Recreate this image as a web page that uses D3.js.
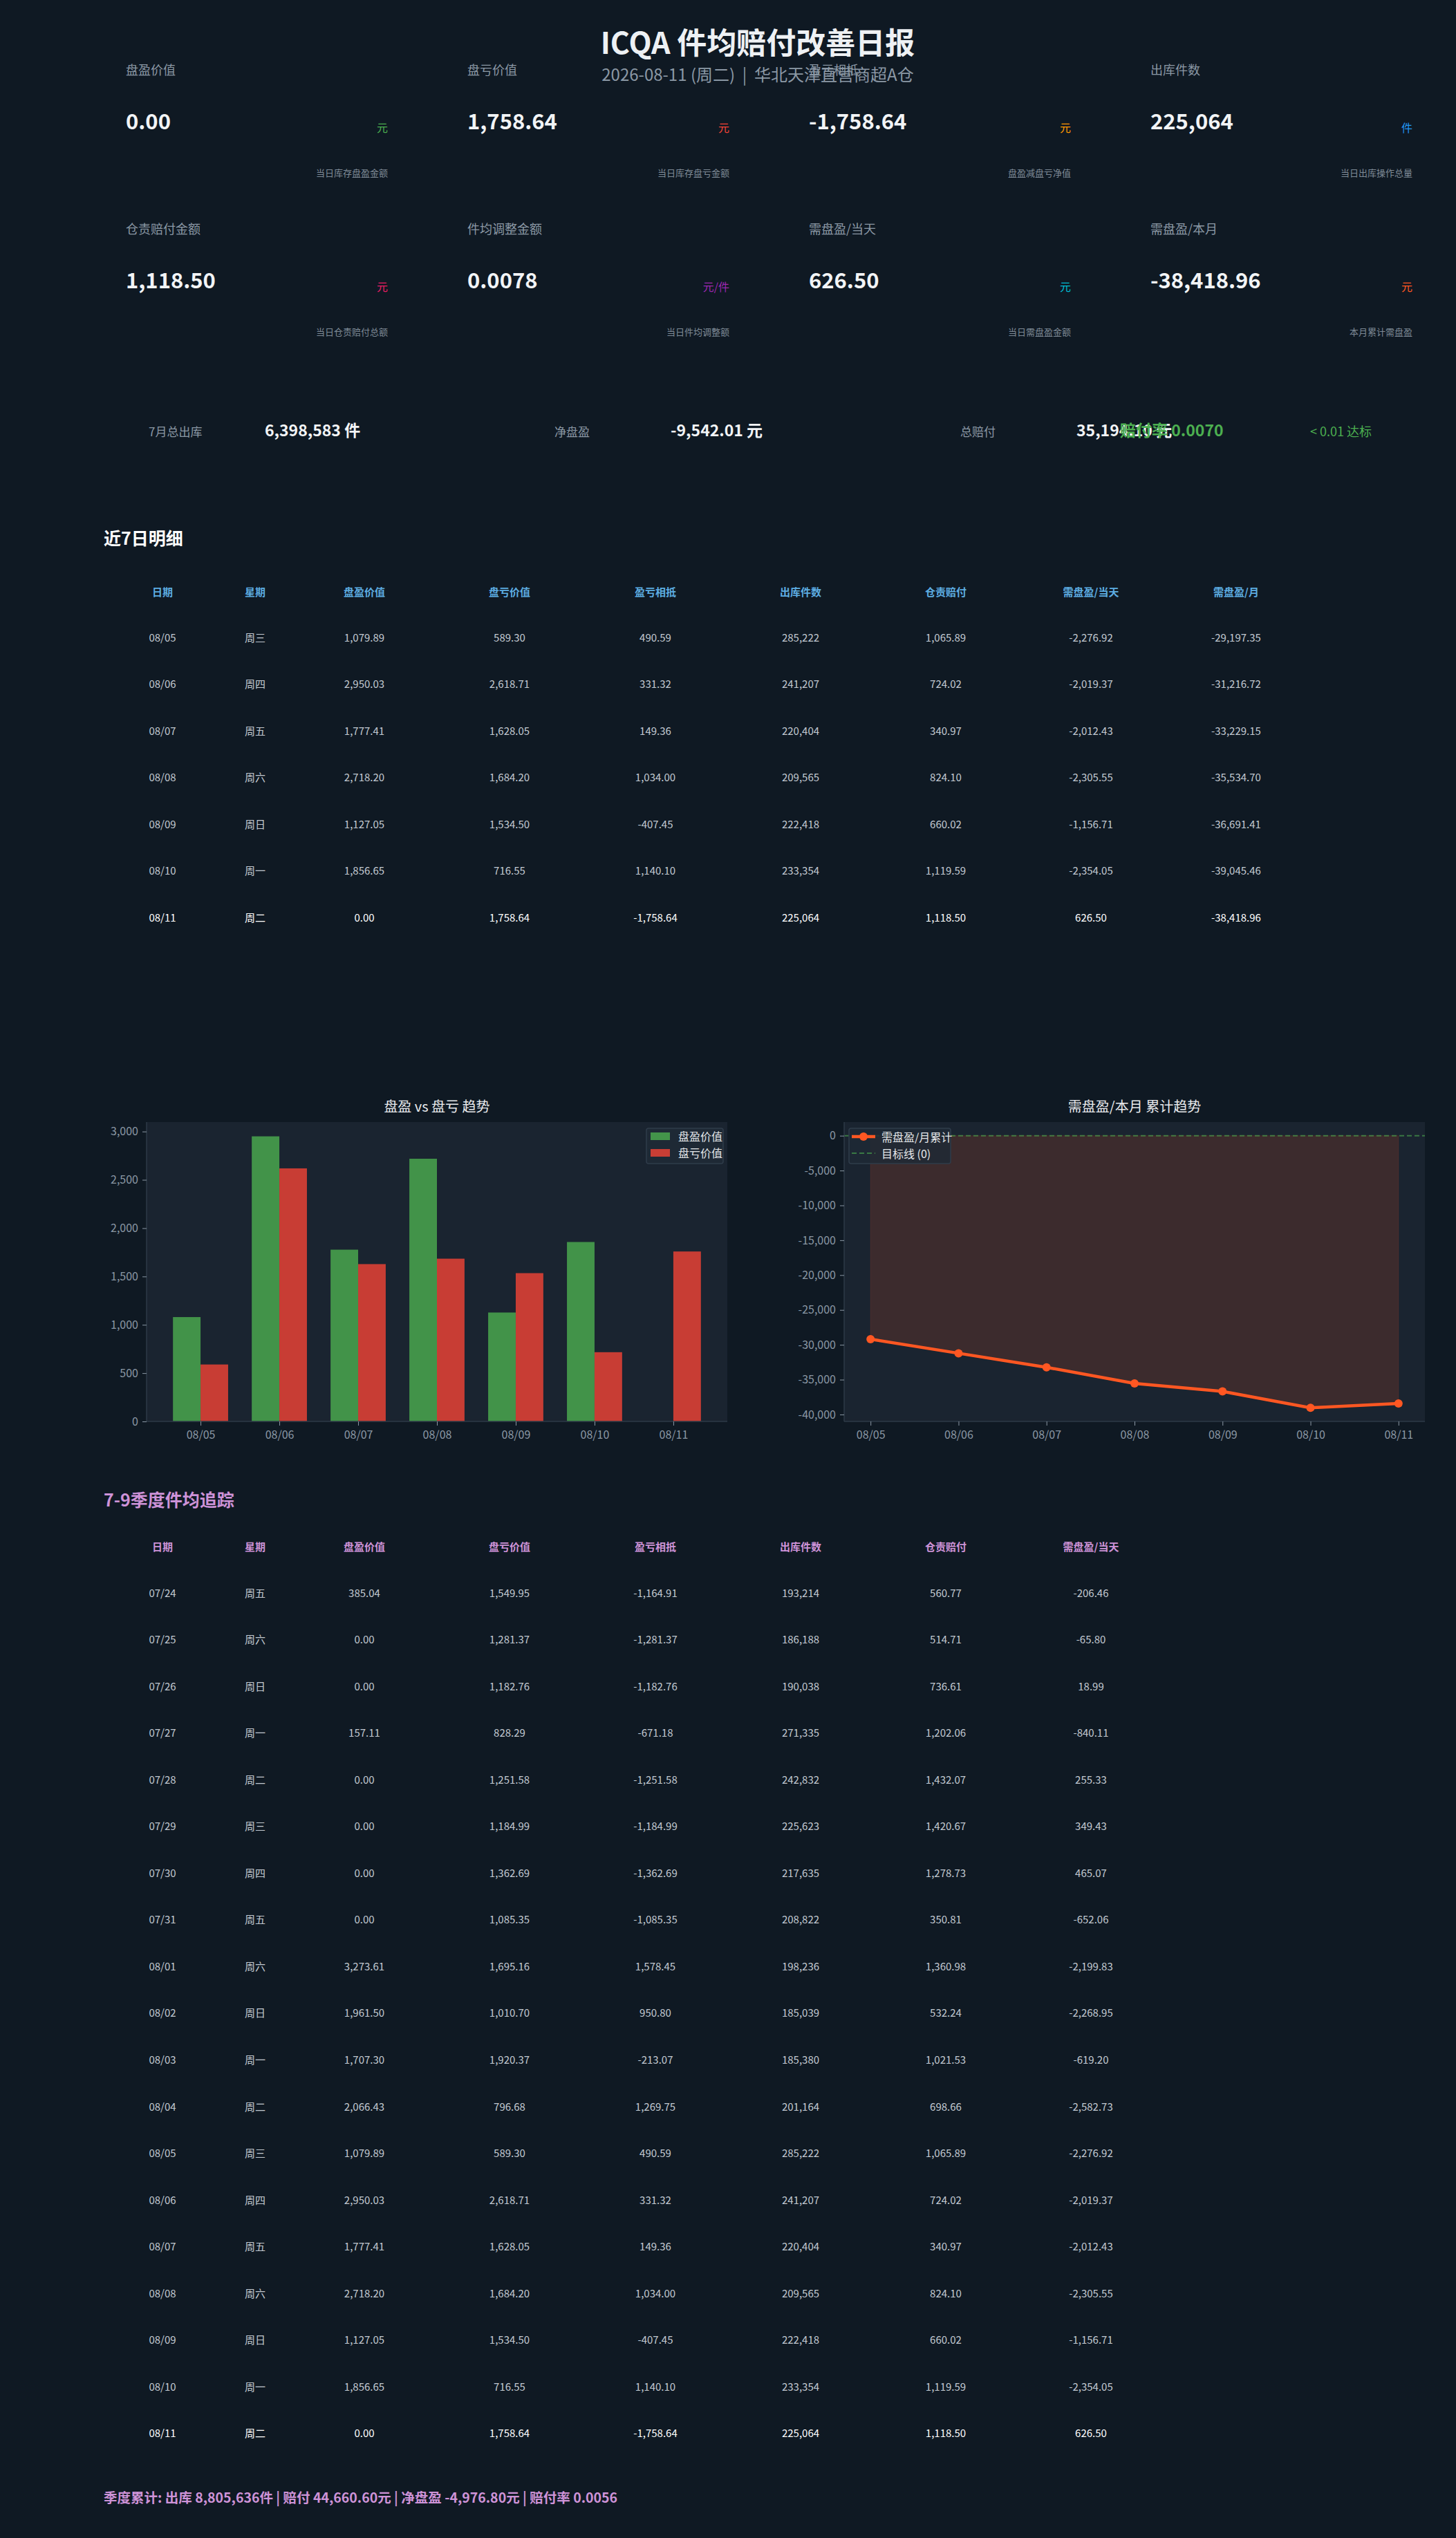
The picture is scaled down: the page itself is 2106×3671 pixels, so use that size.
<!DOCTYPE html>
<html>
<head>
<meta charset="utf-8">
<script src="https://cdn.jsdelivr.net/npm/d3@7"></script>
<style>
  body { margin: 0; background: #0f1923; }
  svg { display: block; font-family: "Noto Sans CJK SC", "Noto Sans", sans-serif; }
</style>
</head>
<body>
<div id="chart"></div>
<script>
// ---------- data ----------
const title = "ICQA 件均赔付改善日报";
const subtitle = "2026-08-11 (周二)  |  华北天津直营商超A仓";

const kpiLabels = ["盘盈价值", "盘亏价值", "盈亏相抵", "出库件数", "仓责赔付金额", "件均调整金额", "需盘盈/当天", "需盘盈/本月"];
const kpiValues = [0, 1758.64, -1758.64, 225064, 1118.50, 0.0078, 626.50, -38418.96];
const kpiKinds  = ["money", "money", "money", "int", "money", "rate", "money", "money"];
const kpiUnits  = ["元", "元", "元", "件", "元", "元/件", "元", "元"];
const kpiUnitColors = ["#4caf50", "#f44336", "#ff9800", "#2196f3", "#e91e63", "#9c27b0", "#00bcd4", "#ff5722"];
const kpiNotes  = ["当日库存盘盈金额", "当日库存盘亏金额", "盘盈减盘亏净值", "当日出库操作总量", "当日仓责赔付总额", "当日件均调整额", "当日需盘盈金额", "本月累计需盘盈"];

const sumLabels = ["7月总出库", "净盘盈", "总赔付"];
const sumValues = [6398583, -9542.01, 35194.10];
const sumUnits  = ["件", "元", "元"];
const sumRate = 0.0070;
const sumRateNote = "< 0.01 达标";

// quarter tracking, 07/24 .. 08/11
const qDates = ["07/24","07/25","07/26","07/27","07/28","07/29","07/30","07/31","08/01","08/02","08/03","08/04","08/05","08/06","08/07","08/08","08/09","08/10","08/11"];
const qWeek  = ["周五","周六","周日","周一","周二","周三","周四","周五","周六","周日","周一","周二","周三","周四","周五","周六","周日","周一","周二"];
const qGain  = [385.04, 0, 0, 157.11, 0, 0, 0, 0, 3273.61, 1961.50, 1707.30, 2066.43, 1079.89, 2950.03, 1777.41, 2718.20, 1127.05, 1856.65, 0];
const qLoss  = [1549.95, 1281.37, 1182.76, 828.29, 1251.58, 1184.99, 1362.69, 1085.35, 1695.16, 1010.70, 1920.37, 796.68, 589.30, 2618.71, 1628.05, 1684.20, 1534.50, 716.55, 1758.64];
const qNet   = [-1164.91, -1281.37, -1182.76, -671.18, -1251.58, -1184.99, -1362.69, -1085.35, 1578.45, 950.80, -213.07, 1269.75, 490.59, 331.32, 149.36, 1034.00, -407.45, 1140.10, -1758.64];
const qOut   = [193214, 186188, 190038, 271335, 242832, 225623, 217635, 208822, 198236, 185039, 185380, 201164, 285222, 241207, 220404, 209565, 222418, 233354, 225064];
const qComp  = [560.77, 514.71, 736.61, 1202.06, 1432.07, 1420.67, 1278.73, 350.81, 1360.98, 532.24, 1021.53, 698.66, 1065.89, 724.02, 340.97, 824.10, 660.02, 1119.59, 1118.50];
const qNeedDay = [-206.46, -65.80, 18.99, -840.11, 255.33, 349.43, 465.07, -652.06, -2199.83, -2268.95, -619.20, -2582.73, -2276.92, -2019.37, -2012.43, -2305.55, -1156.71, -2354.05, 626.50];
const qFooter = "季度累计: 出库 8,805,636件 | 赔付 44,660.60元 | 净盘盈 -4,976.80元 | 赔付率 0.0056";

// last 7 days
const dates7 = ["08/05","08/06","08/07","08/08","08/09","08/10","08/11"];
const needMonth7 = [-29197.35, -31216.72, -33229.15, -35534.70, -36691.41, -39045.46, -38418.96];

const table1Headers = ["日期", "星期", "盘盈价值", "盘亏价值", "盈亏相抵", "出库件数", "仓责赔付", "需盘盈/当天", "需盘盈/月"];
const table2Headers = ["日期", "星期", "盘盈价值", "盘亏价值", "盈亏相抵", "出库件数", "仓责赔付", "需盘盈/当天"];

// ---------- setup ----------
const width = 2106, height = 3671;
const bg = "#0f1923", axBg = "#1a2430", gray = "#8b98a5", cell = "#c3cad2";

const loc = d3.formatLocale({ decimal: ".", thousands: ",", grouping: [3], currency: ["", ""], minus: "-" });
const fMoney = loc.format(",.2f"), fInt = loc.format(","), fRate = loc.format(".4f");
const fmtKind = { money: fMoney, int: fInt, rate: fRate };

const svg = d3.select("#chart").append("svg")
  .attr("width", width).attr("height", height);
svg.append("rect").attr("width", width).attr("height", height).attr("fill", bg);

// ---------- KPI cards ----------
const cardStep = 494, cardLeft = 182, cardInner = 379, rowStep = 230;
kpiLabels.forEach((lab, i) => {
  const c = i % 4, r = Math.floor(i / 4);
  const x0 = cardLeft + c * cardStep, x1 = x0 + cardInner, y0 = r * rowStep;
  const g = svg.append("g");
  g.append("text").attr("x", x0).attr("y", 108 + y0)
    .attr("fill", gray).attr("font-size", 18).text(lab);
  g.append("text").attr("x", x0).attr("y", 187 + y0)
    .attr("fill", "#f2f4f6").attr("font-size", 31).attr("font-weight", 700)
    .text(fmtKind[kpiKinds[i]](kpiValues[i]));
  g.append("text").attr("x", x1).attr("y", 191 + y0).attr("text-anchor", "end")
    .attr("fill", kpiUnitColors[i]).attr("font-size", 16).text(kpiUnits[i]);
  g.append("text").attr("x", x1).attr("y", 255 + y0).attr("text-anchor", "end")
    .attr("fill", "#7f8b97").attr("font-size", 13).text(kpiNotes[i]);
});

// title sits over the cards
svg.append("text").attr("x", 1096).attr("y", 78).attr("text-anchor", "middle")
  .attr("fill", "#eef1f4").attr("font-size", 43).attr("font-weight", 700).text(title);
svg.append("text").attr("x", 1096).attr("y", 117).attr("text-anchor", "middle")
  .attr("fill", gray).attr("font-size", 24).style("white-space", "pre").text(subtitle);

// ---------- summary row ----------
sumLabels.forEach((lab, i) => {
  const x = 215 + i * 587;
  svg.append("text").attr("x", x).attr("y", 631).attr("fill", gray)
    .attr("font-size", 17).text(lab);
  svg.append("text").attr("x", x + 168).attr("y", 631).attr("fill", "#f2f4f6")
    .attr("font-size", 23).attr("font-weight", 700)
    .text((i === 0 ? fInt(sumValues[i]) : fMoney(sumValues[i])) + " " + sumUnits[i]);
});
svg.append("text").attr("x", 1620).attr("y", 631).attr("fill", "#4caf50")
  .attr("font-size", 23).attr("font-weight", 700).text("赔付率 " + fRate(sumRate));
svg.append("text").attr("x", 1895).attr("y", 631).attr("fill", "#4caf50")
  .attr("font-size", 18).text(sumRateNote);

// ---------- tables ----------
const colX = [235, 369, 527, 737, 948, 1158, 1368, 1578, 1788];

function drawTable(headers, rows, headColor, headY, rowY, rowH) {
  const g = svg.append("g");
  g.selectAll(".th").data(headers).join("text")
    .attr("x", (d, i) => colX[i]).attr("y", headY)
    .attr("text-anchor", "middle").attr("dominant-baseline", "central")
    .attr("fill", headColor).attr("font-size", 15).attr("font-weight", 700)
    .text(d => d);
  rows.forEach((row, r) => {
    const last = r === rows.length - 1;
    g.selectAll(null).data(row).join("text")
      .attr("x", (d, i) => colX[i]).attr("y", rowY + r * rowH)
      .attr("text-anchor", "middle").attr("dominant-baseline", "central")
      .attr("fill", last ? "#ffffff" : cell).attr("font-size", 15)
      .text(d => d);
  });
}

svg.append("text").attr("x", 150).attr("y", 788).attr("fill", "#ffffff")
  .attr("font-size", 25).attr("font-weight", 700).text("近7日明细");

const off = qDates.length - 7;
const rows7 = dates7.map((d, i) => {
  const k = off + i;
  return [d, qWeek[k], fMoney(qGain[k]), fMoney(qLoss[k]), fMoney(qNet[k]),
          fInt(qOut[k]), fMoney(qComp[k]), fMoney(qNeedDay[k]), fMoney(needMonth7[i])];
});
drawTable(table1Headers, rows7, "#5dade2", 855, 921, 67.5);

svg.append("text").attr("x", 150).attr("y", 2179).attr("fill", "#ce93d8")
  .attr("font-size", 25).attr("font-weight", 700).text("7-9季度件均追踪");

const rowsQ = qDates.map((d, k) => [d, qWeek[k], fMoney(qGain[k]), fMoney(qLoss[k]), fMoney(qNet[k]),
  fInt(qOut[k]), fMoney(qComp[k]), fMoney(qNeedDay[k])]);
drawTable(table2Headers, rowsQ, "#ce93d8", 2236, 2303, 67.55);

svg.append("text").attr("x", 150).attr("y", 3620).attr("fill", "#ce93d8")
  .attr("font-size", 19.5).attr("font-weight", 700).text(qFooter);

// ---------- charts ----------
const chartTop = 1623, chartBottom = 2056;

function styleAxis(g) {
  g.select(".domain").remove();
  g.selectAll(".tick line").attr("stroke", gray);
  g.selectAll(".tick text").attr("fill", gray).attr("font-size", 16)
    .attr("font-family", '"Noto Sans CJK SC", sans-serif');
}

function frame(x0, x1, name) {
  svg.append("rect").attr("x", x0).attr("y", chartTop)
    .attr("width", x1 - x0).attr("height", chartBottom - chartTop).attr("fill", axBg);
  svg.append("text").attr("x", (x0 + x1) / 2).attr("y", 1608).attr("text-anchor", "middle")
    .attr("fill", "#e8eaed").attr("font-size", 20).text(name);
}

function spines(x0, x1) {
  svg.append("line").attr("x1", x0).attr("x2", x0).attr("y1", chartTop).attr("y2", chartBottom)
    .attr("stroke", "#2e3a47").attr("stroke-width", 1.5);
  svg.append("line").attr("x1", x0).attr("x2", x1).attr("y1", chartBottom).attr("y2", chartBottom)
    .attr("stroke", "#2e3a47").attr("stroke-width", 1.5);
}

// bar chart: 盘盈 vs 盘亏
{
  const gain7 = qGain.slice(off), loss7 = qLoss.slice(off);
  const L = 212, R = 1052, bw = 0.35;
  frame(L, R, "盘盈 vs 盘亏 趋势");
  const x = d3.scaleLinear().domain([-0.685, dates7.length - 1 + 0.685]).range([L, R]);
  const y = d3.scaleLinear().domain([0, d3.max(gain7.concat(loss7)) * 1.05]).range([chartBottom, chartTop]);

  svg.append("g").selectAll("rect").data(gain7).join("rect")
    .attr("x", (d, i) => x(i - bw)).attr("width", x(bw) - x(0))
    .attr("y", d => y(d)).attr("height", d => y(0) - y(d))
    .attr("fill", "#4caf50").attr("fill-opacity", 0.8);
  svg.append("g").selectAll("rect").data(loss7).join("rect")
    .attr("x", (d, i) => x(i)).attr("width", x(bw) - x(0))
    .attr("y", d => y(d)).attr("height", d => y(0) - y(d))
    .attr("fill", "#f44336").attr("fill-opacity", 0.8);

  spines(L, R);
  svg.append("g").attr("transform", `translate(0,${chartBottom})`)
    .call(d3.axisBottom(x).tickValues(d3.range(dates7.length)).tickFormat(i => dates7[i]).tickSize(6).tickPadding(8))
    .call(styleAxis);
  svg.append("g").attr("transform", `translate(${L},0)`)
    .call(d3.axisLeft(y).tickValues(d3.range(0, 3001, 500)).tickFormat(fInt).tickSize(6).tickPadding(6))
    .call(styleAxis);

  // legend
  const lg = svg.append("g").attr("transform", "translate(935,1632)");
  lg.append("rect").attr("width", 111).attr("height", 51).attr("rx", 3)
    .attr("fill", "#1e2935").attr("stroke", "#2f3c4a").attr("stroke-width", 1.5);
  [["盘盈价值", "#4caf50"], ["盘亏价值", "#f44336"]].forEach(([t, c], i) => {
    lg.append("rect").attr("x", 6).attr("y", 6 + i * 24).attr("width", 28).attr("height", 11)
      .attr("fill", c).attr("fill-opacity", 0.8);
    lg.append("text").attr("x", 46).attr("y", 18 + i * 24).attr("fill", "#e3e6e9")
      .attr("font-size", 16).text(t);
  });
}

// line chart: 需盘盈/本月
{
  const L = 1221, R = 2061;
  frame(L, R, "需盘盈/本月 累计趋势");
  const x = d3.scaleLinear().domain([-0.3, dates7.length - 1 + 0.3]).range([L, R]);
  const lo = d3.min(needMonth7), hi = 0, pad = (hi - lo) * 0.05;
  const y = d3.scaleLinear().domain([lo - pad, hi + pad]).range([chartBottom, chartTop]);

  const area = d3.area().x((d, i) => x(i)).y0(y(0)).y1(d => y(d));
  svg.append("path").datum(needMonth7).attr("d", area)
    .attr("fill", "#ff5722").attr("fill-opacity", 0.15)
    .attr("stroke", "#ff5722").attr("stroke-opacity", 0.15);

  svg.append("line").attr("x1", L).attr("x2", R).attr("y1", y(0)).attr("y2", y(0))
    .attr("stroke", "#4caf50").attr("stroke-opacity", 0.6).attr("stroke-width", 2)
    .attr("stroke-dasharray", "7,4");

  const line = d3.line().x((d, i) => x(i)).y(d => y(d));
  svg.append("path").datum(needMonth7).attr("d", line)
    .attr("fill", "none").attr("stroke", "#ff5722").attr("stroke-width", 4.5)
    .attr("stroke-linejoin", "round");
  svg.append("g").selectAll("circle").data(needMonth7).join("circle")
    .attr("cx", (d, i) => x(i)).attr("cy", d => y(d)).attr("r", 6)
    .attr("fill", "#ff5722");

  spines(L, R);
  svg.append("g").attr("transform", `translate(0,${chartBottom})`)
    .call(d3.axisBottom(x).tickValues(d3.range(dates7.length)).tickFormat(i => dates7[i]).tickSize(6).tickPadding(8))
    .call(styleAxis);
  svg.append("g").attr("transform", `translate(${L},0)`)
    .call(d3.axisLeft(y).tickValues(d3.range(-40000, 1, 5000)).tickFormat(fInt).tickSize(6).tickPadding(6))
    .call(styleAxis);

  // legend
  const lg = svg.append("g").attr("transform", "translate(1228,1632)");
  lg.append("rect").attr("width", 147).attr("height", 51).attr("rx", 3)
    .attr("fill", "#1e2935").attr("fill-opacity", 0.85).attr("stroke", "#2f3c4a").attr("stroke-width", 1.5);
  lg.append("line").attr("x1", 4).attr("x2", 38).attr("y1", 12).attr("y2", 12)
    .attr("stroke", "#ff5722").attr("stroke-width", 4.5);
  lg.append("circle").attr("cx", 21).attr("cy", 12).attr("r", 6).attr("fill", "#ff5722");
  lg.append("text").attr("x", 47).attr("y", 19).attr("fill", "#e3e6e9").attr("font-size", 16).text("需盘盈/月累计");
  lg.append("line").attr("x1", 4).attr("x2", 38).attr("y1", 36).attr("y2", 36)
    .attr("stroke", "#4caf50").attr("stroke-opacity", 0.6).attr("stroke-width", 2).attr("stroke-dasharray", "7,4");
  lg.append("text").attr("x", 47).attr("y", 43).attr("fill", "#e3e6e9").attr("font-size", 16).text("目标线 (0)");
}
</script>
</body>
</html>
